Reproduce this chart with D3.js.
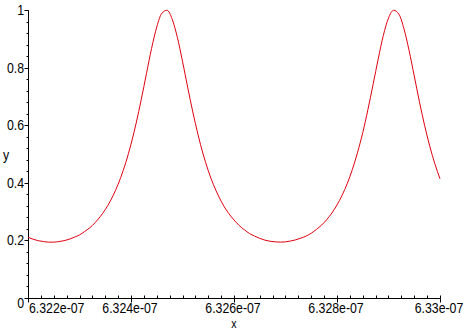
<!DOCTYPE html>
<html>
<head>
<meta charset="utf-8">
<script src="https://cdn.jsdelivr.net/npm/d3@7"></script>
<style>
  body { margin: 0; background: #fff; }
  svg { display: block; }
  text { font-family: "Liberation Sans", Arial, sans-serif; font-size: 14px; fill: #000; }
</style>
</head>
<body>
<svg width="468" height="329"></svg>
<script>
// wavelength in units of 1e-7 m
const wavelength = [
  6.3220, 6.3221, 6.3222, 6.3223, 6.3224, 6.3225, 6.3226, 6.3227, 6.3228, 6.3229,
  6.3230, 6.3231, 6.3232, 6.3233, 6.3234, 6.3235, 6.3236, 6.3237, 6.3238, 6.3239,
  6.3240, 6.3241, 6.3242, 6.3243, 6.3244, 6.3245, 6.3246, 6.3247, 6.3248, 6.3249,
  6.3250, 6.3251, 6.3252, 6.3253, 6.3254, 6.3255, 6.3256, 6.3257, 6.3258, 6.3259,
  6.3260, 6.3261, 6.3262, 6.3263, 6.3264, 6.3265, 6.3266, 6.3267, 6.3268, 6.3269,
  6.3270, 6.3271, 6.3272, 6.3273, 6.3274, 6.3275, 6.3276, 6.3277, 6.3278, 6.3279,
  6.3280, 6.3281, 6.3282, 6.3283, 6.3284, 6.3285, 6.3286, 6.3287, 6.3288, 6.3289,
  6.3290, 6.3291, 6.3292, 6.3293, 6.3294, 6.3295, 6.3296, 6.3297, 6.3298, 6.3299,
  6.3300
];
const transmission = [
  0.211, 0.204, 0.199, 0.196, 0.194, 0.194, 0.196, 0.199, 0.204, 0.211,
  0.219, 0.231, 0.244, 0.261, 0.282, 0.307, 0.337, 0.374, 0.418, 0.471,
  0.534, 0.607, 0.690, 0.779, 0.867, 0.941, 0.989, 0.999, 0.968, 0.905,
  0.822, 0.732, 0.646, 0.568, 0.500, 0.442, 0.394, 0.354, 0.320, 0.293,
  0.271, 0.252, 0.237, 0.224, 0.215, 0.207, 0.201, 0.197, 0.195, 0.194,
  0.195, 0.198, 0.202, 0.208, 0.215, 0.225, 0.238, 0.253, 0.272, 0.295,
  0.323, 0.357, 0.398, 0.447, 0.506, 0.574, 0.654, 0.741, 0.830, 0.912,
  0.972, 0.999, 0.986, 0.935, 0.859, 0.771, 0.682, 0.600, 0.528, 0.466,
  0.414
];
const xTicks = [6.322, 6.324, 6.326, 6.328, 6.330];
const xTickLabels = ['6.322e-07', '6.324e-07', '6.326e-07', '6.328e-07', '6.33e-07'];
const yTicks = [0, 0.2, 0.4, 0.6, 0.8, 1];
const yTickLabels = ['0', '0.2', '0.4', '0.6', '0.8', '1'];

const svg = d3.select('svg');
const x = d3.scaleLinear().domain([6.322, 6.330]).range([28, 440]);
const y = d3.scaleLinear().domain([0, 1]).range([298, 10]);
const SQUEEZE = 0.88; // narrow look of the original label font

// minor ticks
const xMinor = d3.range(0, 33).map(i => 6.322 + i * 0.00025);
const yMinor = d3.range(0, 26).map(i => i * 0.04);

const g = svg.append('g').attr('transform', 'translate(0.5,0.5)');

function label(px, py, anchor, str, size) {
  svg.append('g')
    .attr('transform', `translate(${px},${py}) scale(${SQUEEZE},1)`)
    .append('text')
    .attr('text-anchor', anchor)
    .style('font-size', size ? size + 'px' : null)
    .text(str);
}

// x axis
g.append('line').attr('x1', x(6.322)).attr('x2', x(6.330))
  .attr('y1', y(0)).attr('y2', y(0)).attr('stroke', '#000');
g.selectAll('.xminor').data(xMinor).enter().append('line')
  .attr('x1', d => Math.round(x(d))).attr('x2', d => Math.round(x(d)))
  .attr('y1', y(0)).attr('y2', y(0) - 3).attr('stroke', '#000');
g.selectAll('.xmajor').data(xTicks).enter().append('line')
  .attr('x1', d => Math.round(x(d))).attr('x2', d => Math.round(x(d)))
  .attr('y1', y(0)).attr('y2', y(0) + 4).attr('stroke', '#000');
xTicks.forEach((d, i) => {
  if (i === 0) label(x(d) + 1, 313, 'start', xTickLabels[i]);
  else label(x(d) - 1, 313, 'middle', xTickLabels[i]);
});

// y axis
g.append('line').attr('x1', x(6.322)).attr('x2', x(6.322))
  .attr('y1', y(0)).attr('y2', y(1)).attr('stroke', '#000');
g.selectAll('.yminor').data(yMinor).enter().append('line')
  .attr('x1', x(6.322)).attr('x2', x(6.322) - 2)
  .attr('y1', d => Math.round(y(d))).attr('y2', d => Math.round(y(d))).attr('stroke', '#000');
g.selectAll('.ymajor').data(yTicks).enter().append('line')
  .attr('x1', x(6.322)).attr('x2', x(6.322) - 4)
  .attr('y1', d => Math.round(y(d))).attr('y2', d => Math.round(y(d))).attr('stroke', '#000');
yTicks.forEach((d, i) => {
  label(24, d === 0 ? y(d) + 10 : y(d) + 5, 'end', yTickLabels[i]);
});

// axis titles
label(234, 328, 'middle', 'x', 12);
label(6, 160, 'middle', 'y');

// curve
const line = d3.line()
  .x((d, i) => x(wavelength[i]))
  .y(d => y(d))
  .curve(d3.curveMonotoneX);
svg.append('path')
  .datum(transmission)
  .attr('d', line)
  .attr('fill', 'none')
  .attr('stroke', '#e00010')
  .attr('stroke-width', 1);
</script>
</body>
</html>
